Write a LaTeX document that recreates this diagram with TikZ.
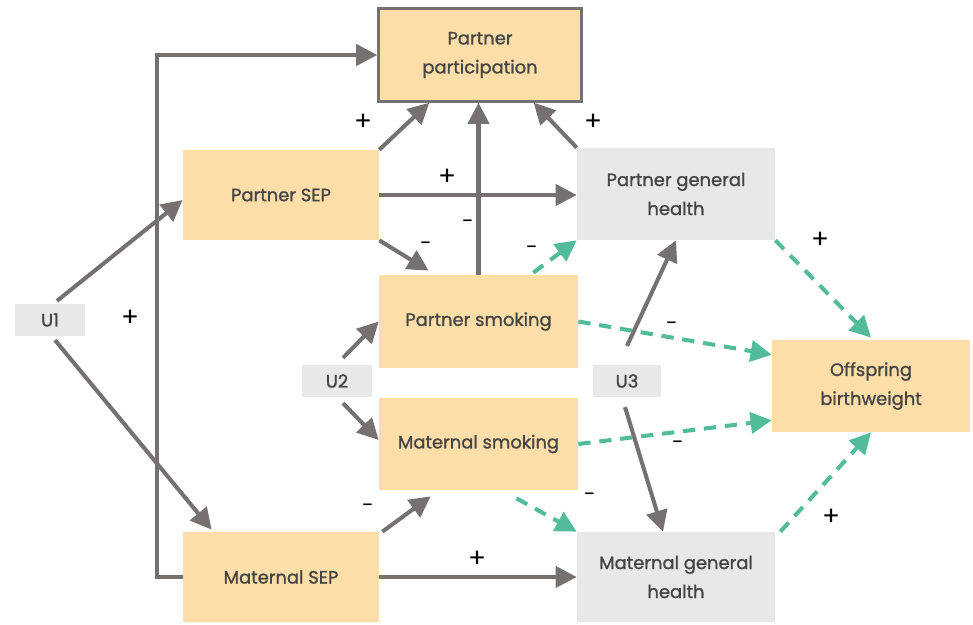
\documentclass[tikz,border=0pt]{standalone}
\usepackage{fontspec}
\setmainfont{Poppins}[FakeBold=0]
\newfontfamily\boxfont{Poppins}[FakeBold=1.2,AutoFakeBold=1.2]
\usetikzlibrary{arrows.meta,calc}
\definecolor{boxor}{HTML}{FDDEA9}
\definecolor{boxgr}{HTML}{E8E8E8}
\definecolor{arrgr}{HTML}{767171}
\definecolor{arrgn}{HTML}{52BC9A}
\definecolor{txt}{HTML}{454545}
\begin{document}
\begin{tikzpicture}[x=0.02cm,y=-0.02cm,
  base/.style={inner sep=0pt,align=center,text=txt,font={\boxfont\bfseries\fontsize{10.2}{16.5}\selectfont}},
  obox/.style={base,fill=boxor},
  gbox/.style={base,fill=boxgr},
  ubox/.style={base,fill=boxgr,minimum width=1.4cm,minimum height=0.63cm},
  garr/.style={draw=arrgr,line width=2.3pt,-{Triangle[length=12pt,width=12pt]}},
  darr/.style={draw=arrgn,line width=2.3pt,dash pattern=on 7pt off 5pt,-{Triangle[length=12pt,width=12pt]}},
  sgn/.style={font={\fontsize{15}{15}\selectfont},text=black,inner sep=0pt}]
\useasboundingbox (0,0) rectangle (973,625);
% nodes
\node[obox,draw=arrgr,line width=1.7pt,minimum width=4.05cm,minimum height=1.85cm] (pp) at (480,55) {Partner\\participation};
\node[obox,minimum width=3.92cm,minimum height=1.8cm] (psep) at (281,195) {Partner SEP};
\node[gbox,minimum width=3.96cm,minimum height=1.84cm] (pgh) at (676,194) {Partner general\\health};
\node[obox,minimum width=3.98cm,minimum height=1.86cm] (psm) at (478.5,321.5) {Partner smoking};
\node[obox,minimum width=3.98cm,minimum height=1.84cm] (msm) at (478.5,444) {Maternal smoking};
\node[obox,minimum width=3.96cm,minimum height=1.84cm] (off) at (871,386) {Offspring\\birthweight};
\node[obox,minimum width=3.92cm,minimum height=1.8cm] (msep) at (281,577) {Maternal SEP};
\node[gbox,minimum width=3.96cm,minimum height=1.8cm] (mgh) at (676,577) {Maternal general\\health};
\node[ubox] (u1) at (50,320) {U1};
\node[ubox] (u2) at (337,381) {U2};
\node[ubox,minimum width=1.36cm] (u3) at (627,381) {U3};
% grey arrows
\draw[garr] (msep.west) -- ++(-26,0) |- (pp.west);
\draw[garr] ($(u1.north)+(7,-3)$) -- ($(psep.west)+(0,5)$);
\draw[garr] ($(u1.south)+(5,4)$) -- ($(msep.north west)+(29,-2)$);
\draw[garr] (psep.north east) -- ($(pp.south west)+(52,0)$);
\draw[garr] (psep.east) -- (psep.east -| pgh.west);
\draw[garr] (psep.south east) -- ($(psm.north west)+(50,-4)$);
\draw[garr] (psm.north) -- (psm.north |- pp.south);
\draw[garr] (pgh.north west) -- ($(pp.south east)+(-49,0)$);
\draw[garr] ($(u2.north)+(6,-7)$) -- (psm.west);
\draw[garr] ($(u2.south)+(6,6)$) -- ($(msm.west)+(0,-4)$);
\draw[garr] ($(u3.north)+(0,-19)$) -- (pgh.south);
\draw[garr] ($(u3.south)+(-2,10)$) -- ($(mgh.north)+(-13,0)$);
\draw[garr] ($(msep.north east)+(3,0)$) -- ($(msm.south west)+(52,6)$);
\draw[garr] (msep.east) -- (mgh.west);
% green dashed arrows
\draw[darr] ($(psm.north east)+(-45,-2)$) -- (pgh.south west);
\draw[darr] (psm.east) -- ($(off.north west)+(0,15)$);
\draw[darr] (msm.east) -- ($(off.south west)+(0,-12)$);
\draw[darr] ($(msm.south)+(38,8)$) -- (mgh.north west);
\draw[darr] (pgh.south east) -- ($(off.north)+(0,-2)$);
\draw[darr] ($(mgh.north east)+(5,0)$) -- (off.south);
% signs
\node[sgn] (s1) at (130,318) {+};
\node[sgn] (s2) at (363,122) {+};
\node[sgn] (s3) at (447,177) {+};
\node[sgn] (s4) at (593,122) {+};
\node[sgn] (s5) at (820,240) {+};
\node[sgn] (s6) at (831,517) {+};
\node[sgn] (s7) at (477,559) {+};
\node[sgn,font={\fontsize{12}{12}\selectfont}] (m1) at (426,246) {-};
\node[sgn,font={\fontsize{12}{12}\selectfont}] (m2) at (468,224) {-};
\node[sgn,font={\fontsize{12}{12}\selectfont}] (m3) at (532,250) {-};
\node[sgn,font={\fontsize{12}{12}\selectfont}] (m4) at (672,326) {-};
\node[sgn,font={\fontsize{12}{12}\selectfont}] (m5) at (678,445) {-};
\node[sgn,font={\fontsize{12}{12}\selectfont}] (m6) at (590,497) {-};
\node[sgn,font={\fontsize{12}{12}\selectfont}] (m7) at (368,508) {-};
\end{tikzpicture}
\end{document}
